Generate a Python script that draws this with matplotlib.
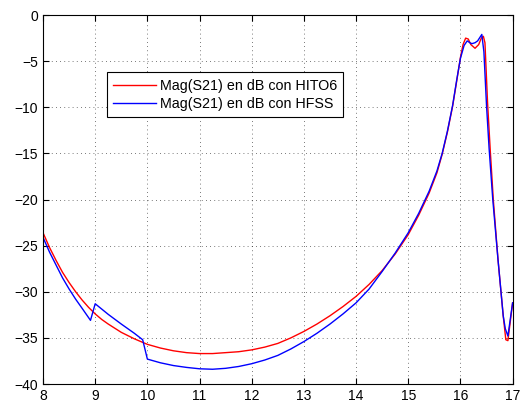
import numpy as np
import matplotlib
matplotlib.use("Agg")
import matplotlib.pyplot as plt

plt.rcParams['font.family'] = ['Liberation Sans', 'DejaVu Sans']

# Mag(S21) con HITO6 (rojo)
f_hito = [8.0, 8.125, 8.25, 8.375, 8.5, 8.625, 8.75, 8.875, 9.0, 9.125, 9.25,
          9.5, 9.75, 10.0, 10.25, 10.5, 10.75, 11.0, 11.25, 11.5, 11.75, 12.0,
          12.25, 12.5, 12.75, 13.0, 13.25, 13.5, 13.75, 14.0, 14.25, 14.5, 14.75,
          15.0, 15.2, 15.4, 15.55, 15.65, 15.75, 15.85, 15.93, 16.0, 16.05, 16.1,
          16.15, 16.2, 16.28, 16.35, 16.4, 16.44, 16.47, 16.52, 16.57, 16.63,
          16.72, 16.82, 16.87, 16.91, 17.0]
s21_hito = [-23.6, -25.2, -26.6, -27.9, -29.0, -30.0, -30.9, -31.7, -32.4, -33.0,
            -33.5, -34.4, -35.1, -35.7, -36.1, -36.4, -36.6, -36.7, -36.7, -36.6,
            -36.5, -36.3, -36.0, -35.6, -35.0, -34.3, -33.5, -32.6, -31.6, -30.5,
            -29.2, -27.7, -25.9, -23.8, -21.7, -19.3, -17.1, -15.1, -12.7, -9.9,
            -7.1, -4.6, -3.2, -2.5, -2.6, -3.2, -3.6, -3.2, -2.5, -2.3, -3.0,
            -9.5, -14.5, -20.0, -26.5, -32.6, -35.2, -35.3, -31.2]

# Mag(S21) con HFSS (azul)
f_hfss = [8.0, 8.125, 8.25, 8.375, 8.5, 8.625, 8.75, 8.91, 9.0, 9.25, 9.5, 9.75,
          9.91, 10.0, 10.25, 10.5, 10.75, 11.0, 11.25, 11.5, 11.75, 12.0, 12.25,
          12.5, 12.75, 13.0, 13.25, 13.5, 13.75, 14.0, 14.25, 14.5, 14.75, 15.0,
          15.2, 15.4, 15.55, 15.65, 15.75, 15.85, 15.93, 16.0, 16.07, 16.13,
          16.18, 16.22, 16.28, 16.33, 16.41, 16.45, 16.5, 16.55, 16.62, 16.72,
          16.82, 16.86, 16.91, 17.0]
s21_hfss = [-24.1, -25.7, -27.1, -28.5, -29.7, -30.8, -31.8, -33.1, -31.3, -32.45,
            -33.5, -34.5, -35.2, -37.3, -37.7, -38.0, -38.2, -38.35, -38.4, -38.3,
            -38.1, -37.8, -37.4, -36.9, -36.2, -35.4, -34.5, -33.5, -32.4, -31.2,
            -29.7, -27.8, -25.8, -23.6, -21.5, -19.1, -16.9, -15.0, -12.6, -9.8,
            -7.0, -4.7, -3.3, -2.8, -3.0, -3.1, -3.0, -2.8, -2.1, -4.0, -9.8,
            -14.5, -20.0, -26.5, -32.6, -34.0, -34.8, -31.2]

fig = plt.figure(figsize=(5.22, 4.07), dpi=100)
ax = fig.add_axes([0.0824, 0.0565, 0.8996, 0.9065])

ax.plot(f_hito, s21_hito, color='red', lw=1.0, label='Mag(S21) en dB con HITO6')
ax.plot(f_hfss, s21_hfss, color='blue', lw=1.0, label='Mag(S21) en dB con HFSS')

ax.set_xlim(8, 17)
ax.set_ylim(-40, 0)
ax.set_xticks(np.arange(8, 18, 1))
ax.set_yticks(np.arange(-40, 1, 5))
ax.grid(True, linestyle=(0, (1, 4)), color='black', lw=0.6, alpha=0.7)
ax.tick_params(direction='in', top=True, right=True, labelsize=10, length=4)
for s in ax.spines.values():
    s.set_linewidth(0.8)

leg = ax.legend(loc='upper left', bbox_to_anchor=(0.136, 0.845), fontsize=10.25,
                frameon=True, fancybox=False, edgecolor='black', framealpha=1,
                handlelength=3.0, borderpad=0.45, labelspacing=0.3,
                handletextpad=0.25, borderaxespad=0)
leg.get_frame().set_linewidth(0.8)

fig.savefig('out.png', dpi=100)
